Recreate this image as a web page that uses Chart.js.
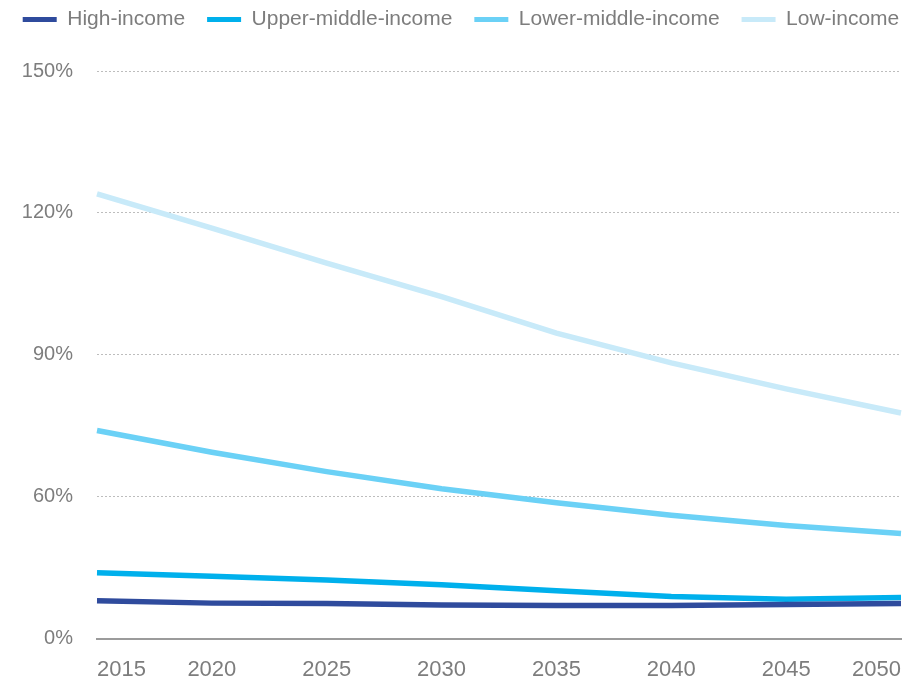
<!DOCTYPE html>
<html>
<head>
<meta charset="utf-8">
<script src="https://cdn.jsdelivr.net/npm/chart.js@4.4.1/dist/chart.umd.min.js"></script>
<style>
  html, body { margin: 0; padding: 0; background: #fff; }
  #wrap { width: 922px; height: 681px; }
</style>
</head>
<body>
<div id="wrap"><canvas id="chart"></canvas></div>
<script>
const years = ['2015', '2020', '2025', '2030', '2035', '2040', '2045', '2050'];
const highIncome = [38.0, 37.5, 37.4, 37.1, 37.0, 37.0, 37.2, 37.4];
const upperMiddleIncome = [43.9, 43.2, 42.4, 41.4, 40.1, 38.9, 38.3, 38.7];
const lowerMiddleIncome = [74.0, 69.4, 65.3, 61.7, 58.7, 56.1, 53.9, 52.2];
const lowIncome = [124.0, 116.8, 109.4, 102.3, 94.6, 88.3, 82.8, 77.7];
const yTicks = [30, 60, 90, 120, 150];

const grey = '#7d7d7d';
const font = 'Liberation Sans, Arial, sans-serif';

function line(label, data, color) {
    return {
        label: label,
        data: data,
        borderColor: color,
        backgroundColor: color,
        borderWidth: 5.5,
        pointRadius: 0,
        pointHoverRadius: 0,
        tension: 0,
        borderCapStyle: 'butt'
    };
}

// keep the legend on one row and leave some room under it
const legendFit = {
    id: 'legendFit',
    beforeInit(chart) {
        const fit = chart.legend.fit;
        chart.legend.fit = function () {
            this.maxWidth = 2000;
            fit.bind(chart.legend)();
            this.width = chart.width;
            this.height += 31;
        };
    }
};

const ctx = document.getElementById('chart').getContext('2d');
const myChart = new Chart(ctx, {
    type: 'line',
    data: {
        labels: years,
        datasets: [
            line('High-income', highIncome, '#2f4b9d'),
            line('Upper-middle-income', upperMiddleIncome, '#00b0ec'),
            line('Lower-middle-income', lowerMiddleIncome, '#6bd1f6'),
            line('Low-income', lowIncome, '#c8eaf9')
        ]
    },
    options: {
        responsive: true,
        maintainAspectRatio: false,
        animation: false,
        layout: {
            padding: { top: -13, left: 0, right: 0, bottom: -20 }
        },
        plugins: {
            tooltip: { enabled: false },
            legend: {
                position: 'top',
                labels: {
                    boxWidth: 34,
                    boxHeight: 5,
                    padding: 22,
                    color: grey,
                    font: { family: font, size: 21 },
                    generateLabels(chart) {
                        const items = Chart.defaults.plugins.legend.labels.generateLabels(chart);
                        items.forEach(it => { it.lineWidth = 0; });
                        return items;
                    }
                }
            }
        },
        scales: {
            x: {
                afterFit(scale) {
                    scale.paddingRight = 21;
                },
                grid: { display: false, drawTicks: false },
                border: { display: true, color: '#9b9b9b', width: 2 },
                ticks: {
                    color: grey,
                    padding: 18,
                    align: 'inner',
                    maxRotation: 0,
                    font: { family: font, size: 22 }
                }
            },
            y: {
                min: 30,
                max: 150,
                afterBuildTicks(scale) {
                    scale.ticks = yTicks.map(v => ({ value: v }));
                },
                afterFit(scale) {
                    scale.width = 97;
                },
                grid: {
                    color: '#bdbdbd',
                    lineWidth: 1,
                    drawTicks: false
                },
                border: { display: false, dash: [2, 2] },
                ticks: {
                    color: grey,
                    padding: 24,
                    font: { family: font, size: 20 },
                    callback: v => (v === 30 ? '0%' : v + '%')
                }
            }
        }
    },
    plugins: [legendFit]
});
</script>
</body>
</html>
